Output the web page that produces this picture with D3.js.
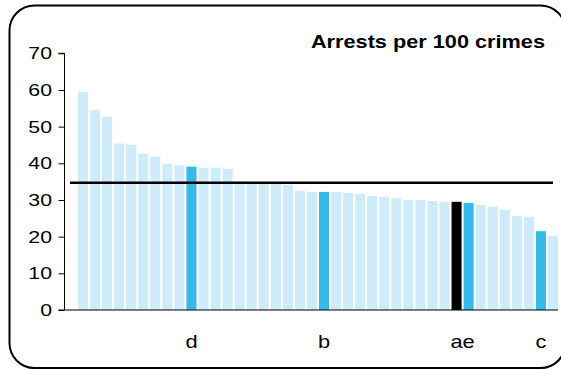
<!DOCTYPE html>
<html>
<head>
<meta charset="utf-8">
<script src="https://cdn.jsdelivr.net/npm/d3@7"></script>
<style>
  html, body { margin: 0; padding: 0; background: #fff; }
  svg { display: block; }
  text { font-family: "Liberation Sans", Arial, sans-serif; fill: #000; }
</style>
</head>
<body>
<svg id="chart" width="561" height="370"></svg>
<script>
// ---- data ----
const values = [59.5, 54.6, 52.7, 45.4, 45.1, 42.6, 41.8, 39.9, 39.4, 39.1,
                38.8, 38.8, 38.5, 35.0, 34.8, 34.6, 34.4, 34.1, 32.5, 32.2,
                32.2, 32.2, 31.9, 31.6, 31.1, 30.8, 30.5, 30.0, 30.0, 29.7,
                29.5, 29.5, 29.2, 28.6, 28.1, 27.3, 25.6, 25.4, 21.5, 20.2];
const labels = ["", "", "", "", "", "", "", "", "", "d",
                "", "", "", "", "", "", "", "", "", "",
                "b", "", "", "", "", "", "", "", "", "",
                "", "a", "e", "", "", "", "", "", "c", ""];
const highlight = ["", "", "", "", "", "", "", "", "", "blue",
                   "", "", "", "", "", "", "", "", "", "",
                   "blue", "", "", "", "", "", "", "", "", "",
                   "", "black", "blue", "", "", "", "", "", "blue", ""];
const average = [34.7];
const yTicks = [0, 10, 20, 30, 40, 50, 60, 70];
const title = "Arrests per 100 crimes";

// ---- drawing ----
const svg = d3.select("#chart");
const colors = { "": "#cdebf8", blue: "#35b9e7", black: "#000000" };
const sx = 1.25; // horizontal stretch of the reference's lettering

const x = d3.scaleBand()
  .domain(d3.range(values.length))
  .range([78, 558])
  .paddingInner(1 / 6)
  .paddingOuter(0);

const y = d3.scaleLinear().domain([0, 70]).range([310, 53.3]);

// frame
svg.append("rect")
  .attr("x", 9.5).attr("y", 5.5)
  .attr("width", 556).attr("height", 362.5)
  .attr("rx", 25).attr("ry", 25)
  .attr("fill", "none").attr("stroke", "#000").attr("stroke-width", 2);

// bars
svg.append("g").selectAll("rect")
  .data(values)
  .join("rect")
  .attr("x", (d, i) => x(i))
  .attr("y", d => y(d))
  .attr("width", x.bandwidth())
  .attr("height", d => y(0) - y(d))
  .attr("fill", (d, i) => colors[highlight[i]]);

// y axis
const yAxis = svg.append("g")
  .attr("transform", "translate(64.5,0)")
  .call(d3.axisLeft(y).tickValues(yTicks).tickSize(6).tickPadding(6));
yAxis.select(".domain").attr("stroke", "#000").attr("d", `M-6,${y(70)}H0V${y(0)}`);
yAxis.selectAll(".tick line").attr("stroke", "#000");
yAxis.selectAll(".tick text")
  .style("font-family", "'Liberation Sans', Arial, sans-serif")
  .style("font-size", "17px")
  .attr("fill", "#000")
  .attr("x", -12.5 / sx)
  .attr("transform", `scale(${sx},1)`);

// baseline
svg.append("line")
  .attr("x1", 58.5).attr("x2", 558)
  .attr("y1", y(0)).attr("y2", y(0))
  .attr("stroke", "#000").attr("stroke-width", 1.2);

// average line
svg.append("g").selectAll("line")
  .data(average)
  .join("line")
  .attr("x1", 70).attr("x2", 553)
  .attr("y1", d => y(d)).attr("y2", d => y(d))
  .attr("stroke", "#000").attr("stroke-width", 2.6);

// category labels
svg.append("g").selectAll("text")
  .data(labels)
  .join("text")
  .attr("transform", (d, i) => `translate(${x(i) + x.bandwidth() / 2},348) scale(${sx},1)`)
  .attr("text-anchor", "middle")
  .style("font-size", "17.5px")
  .text(d => d);

// title
svg.append("text")
  .attr("transform", `translate(545,48) scale(1.22,1)`)
  .attr("text-anchor", "end")
  .style("font-size", "17.8px")
  .style("font-weight", "bold")
  .text(title);
</script>
</body>
</html>
